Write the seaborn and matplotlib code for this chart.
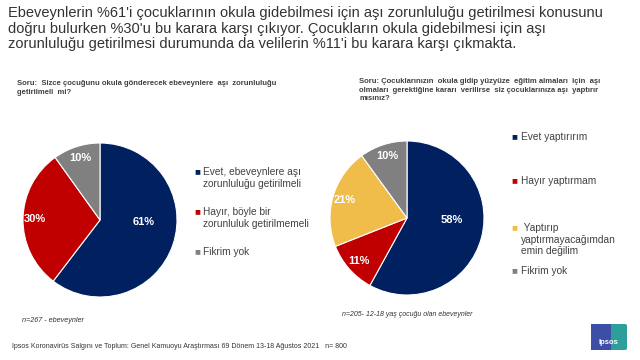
import numpy as np
import seaborn as sns
import matplotlib.pyplot as plt
from matplotlib.patches import FancyBboxPatch

# data
left_labels = ["Evet, ebeveynlere aşı\nzorunluluğu getirilmeli",
               "Hayır, böyle bir\nzorunluluk getirilmemeli",
               "Fikrim yok"]
left_values = [61, 30, 10]
left_colors = ["#002060", "#C00000", "#808080"]

right_labels = ["Evet yaptırırım",
                "Hayır yaptırmam",
                " Yaptırıp\nyaptırmayacağımdan\nemin değilim",
                "Fikrim yok"]
right_values = [58, 11, 21, 10]
right_colors = ["#002060", "#C00000", "#F0BC4A", "#808080"]

title = ("Ebeveynlerin %61'i çocuklarının okula gidebilmesi için aşı zorunluluğu getirilmesi konusunu\n"
         "doğru bulurken %30'u bu karara karşı çıkıyor. Çocukların okula gidebilmesi için aşı\n"
         "zorunluluğu getirilmesi durumunda da velilerin %11'i bu karara karşı çıkmakta.")
q_left = "Soru:  Sizce çocuğunu okula gönderecek ebeveynlere  aşı  zorunluluğu\ngetirilmeli  mi?"
q_right = ("Soru: Çocuklarınızın  okula gidip yüzyüze  eğitim almaları  için  aşı\n"
           "olmaları  gerektiğine kararı  verilirse  siz çocuklarınıza aşı  yaptırır\nmısınız?")
n_left = "n=267 - ebeveynler"
n_right = "n=205- 12-18 yaş çocuğu olan ebeveynler"
footer = "Ipsos Koronavirüs Salgını ve Toplum: Genel Kamuoyu Araştırması 69 Dönem 13-18 Ağustos 2021   n= 800"

sns.set_theme(style="white")
plt.rcParams['font.family'] = ['Liberation Sans', 'DejaVu Sans']

W, H = 640, 360
fig = plt.figure(figsize=(6.4, 3.6), dpi=100)

def px(x, y):
    return x / W, 1 - y / H

def draw_pie(values, colors, cx, cy, r):
    ax = fig.add_axes([(cx - r) / W, 1 - (cy + r) / H, 2 * r / W, 2 * r / H])
    wedges, texts, autotexts = ax.pie(
        values, colors=colors, startangle=90, counterclock=False,
        autopct=lambda p: f"{p:.0f}%", pctdistance=0.84,
        wedgeprops=dict(edgecolor="white", linewidth=0.8),
        textprops=dict(color="white", fontsize=8, fontweight="bold"))
    total = sum(values)
    start = 90.0
    for v, t in zip(values, autotexts):
        mid = np.deg2rad(start - v / total * 180)
        start -= v / total * 360
        t.set_text(f"{v}%")
        if v > 50:
            t.set_position((0.6 * np.cos(mid), 0.1 * np.sin(mid)))
    ax.set_xlim(-1, 1)
    ax.set_ylim(-1, 1)
    return ax

draw_pie(left_values, left_colors, 100, 220, 77)
draw_pie(right_values, right_colors, 407, 218, 77)

# title and questions
fig.text(*px(8, 6), title, fontsize=10.5, color="#333333", va="top", linespacing=1.15)
fig.text(*px(17, 80), q_left, fontsize=5.5, fontweight="bold", color="#404040",
         va="top", linespacing=1.3)
fig.text(*px(359, 78), q_right, fontsize=5.5, fontweight="bold", color="#404040",
         va="top", linespacing=1.3)

# legends
left_ys = [167, 207, 247]
for lab, col, y in zip(left_labels, left_colors, left_ys):
    fig.text(*px(194, y - 1), "■", color=col, fontsize=7, va="top")
    fig.text(*px(203, y), lab, color="#404040", fontsize=7.3, va="top", linespacing=1.3)

right_ys = [132, 176, 223, 266]
for lab, col, y in zip(right_labels, right_colors, right_ys):
    fig.text(*px(511, y - 1), "■", color=col, fontsize=7, va="top")
    fig.text(*px(521, y), lab, color="#404040", fontsize=7.3, va="top", linespacing=1.2)

# notes
fig.text(*px(22, 320), n_left, fontsize=5.2, style="italic", color="#333333", va="center")
fig.text(*px(342, 315), n_right, fontsize=5.0, style="italic", color="#333333", va="center")
fig.text(*px(12, 347), footer, fontsize=5.0, color="#333333", va="center")

# logo
fig.patches.append(FancyBboxPatch(px(591, 350), 36 / W, 26 / H, boxstyle="round,pad=0,rounding_size=0.004",
                                  transform=fig.transFigure, facecolor="#2E9E9A", edgecolor="none"))
fig.patches.append(FancyBboxPatch(px(591, 350), 20 / W, 26 / H, boxstyle="square,pad=0",
                                  transform=fig.transFigure, facecolor="#3C4EA5", edgecolor="none"))
fig.text(*px(608, 343), "Ipsos", fontsize=5.5, fontweight="bold", color="white", ha="center", va="center")

fig.savefig("out.png", dpi=100)
